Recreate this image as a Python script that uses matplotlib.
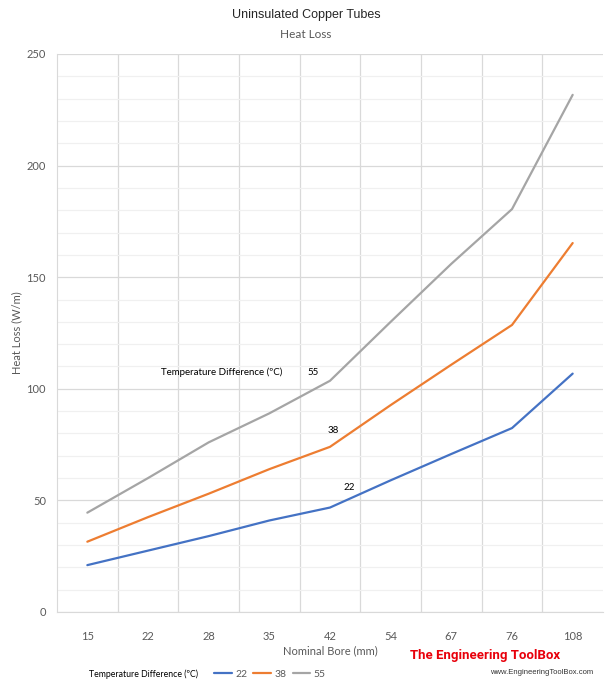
import matplotlib
matplotlib.use("Agg")
import matplotlib.pyplot as plt
from matplotlib.ticker import MultipleLocator

bores = ["15", "22", "28", "35", "42", "54", "67", "76", "108"]
loss_22 = [21, 27.5, 34, 41, 46.8, 59, 70.8, 82.4, 106.8]
loss_38 = [31.5, 42.5, 53, 64, 74, 92.7, 110.8, 128.6, 165.3]
loss_55 = [44.5, 60, 76, 89, 103.6, 130, 156, 180.5, 231.7]
series_names = ["22", "38", "55"]
colors = ["#4472C4", "#ED7D31", "#A5A5A5"]

plt.rcParams["font.family"] = ["Lato", "DejaVu Sans"]

fig = plt.figure(figsize=(6.12, 6.87), dpi=100)
ax = fig.add_axes([57 / 612, 75 / 687, 546 / 612, 558 / 687])

x = list(range(len(bores)))
for vals, name, c in zip([loss_22, loss_38, loss_55], series_names, colors):
    ax.plot(x, vals, color=c, lw=1.6, label=name, solid_capstyle="round")

ax.set_xlim(-0.5, len(bores) - 0.5)
ax.set_ylim(0, 250)
ax.set_xticks(x)
ax.set_xticklabels(bores)
ax.yaxis.set_major_locator(MultipleLocator(50))
ax.yaxis.set_minor_locator(MultipleLocator(10))
ax.set_xticks([i + 0.5 for i in x[:-1]], minor=True)
ax.grid(which="major", axis="y", color="#D9D9D9", lw=0.9)
ax.grid(which="minor", axis="y", color="#F0F0F0", lw=0.9)
ax.grid(which="minor", axis="x", color="#D9D9D9", lw=0.9)
ax.set_axisbelow(True)
for s in ["top", "right"]:
    ax.spines[s].set_visible(False)
ax.spines["left"].set_color("#D9D9D9")
ax.spines["bottom"].set_color("#D9D9D9")
ax.tick_params(which="both", length=0, labelsize=8, colors="#595959")
ax.tick_params(axis="x", pad=14)
ax.tick_params(axis="y", pad=8)

ax.set_xlabel("Nominal Bore (mm)", fontsize=8, color="#595959", labelpad=2)
ax.set_ylabel("Heat Loss (W/m)", fontsize=8, color="#595959", labelpad=3)

fig.text(0.5, 1 - 15 / 687, "Uninsulated Copper Tubes", ha="center", va="center",
         fontsize=9, family="Liberation Sans", color="#262626")
fig.text(0.5, 1 - 35 / 687, "Heat Loss", ha="center", va="center",
         fontsize=8.5, color="#595959")

# in-plot labels
ax.text(2.22, 107.5, "Temperature Difference (ºC)", ha="center", va="center", fontsize=7)
ax.text(3.72, 107.5, "55", ha="center", va="center", fontsize=7)
ax.text(4.05, 81.5, "38", ha="center", va="center", fontsize=7)
ax.text(4.32, 56, "22", ha="center", va="center", fontsize=7)

# legend
fig.text(89 / 612, 1 - 674 / 687, "Temperature Difference (ºC)", ha="left", va="center",
         fontsize=6.3)
fig.legend(loc="center left", bbox_to_anchor=(205 / 612, 1 - 674 / 687), ncol=3,
           frameon=False, fontsize=7.5, handlelength=1.7, handletextpad=0.3,
           columnspacing=0.6, labelcolor="#595959")

# watermark
fig.text(410 / 612, 1 - 656 / 687, "The Engineering ToolBox", ha="left", va="center",
         fontsize=9.5, color="#E8000B", family="Roboto", fontweight="bold")
fig.text(490 / 612, 1 - 673 / 687, "www.EngineeringToolBox.com", ha="left", va="center",
         fontsize=5.5, color="#333333", family="Liberation Sans")

fig.savefig("out.png", dpi=100)
